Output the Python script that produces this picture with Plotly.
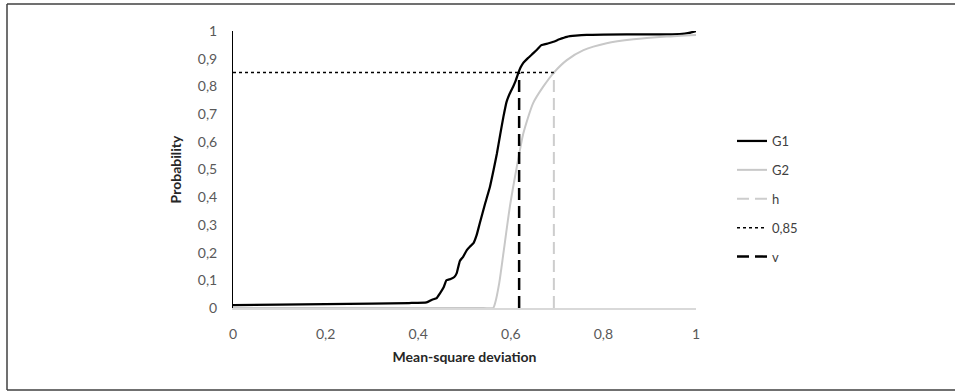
import plotly.graph_objects as go

# ---- data ----
g1_x = [0.000, 0.100, 0.200, 0.300, 0.380, 0.418, 0.430, 0.440, 0.447, 0.455, 0.461, 0.470,
        0.478, 0.483, 0.490, 0.497, 0.505, 0.512, 0.519, 0.526, 0.533, 0.545, 0.555, 0.563,
        0.570, 0.577, 0.584, 0.591, 0.598, 0.605, 0.610, 0.616, 0.621, 0.627, 0.637, 0.648,
        0.657, 0.666, 0.680, 0.692, 0.705, 0.721, 0.740, 0.764, 0.800, 0.900, 0.965, 0.985, 1.000]
g1_y = [0.010, 0.012, 0.014, 0.016, 0.018, 0.020, 0.030, 0.036, 0.053, 0.075, 0.100, 0.105,
        0.112, 0.125, 0.170, 0.185, 0.209, 0.222, 0.233, 0.262, 0.306, 0.380, 0.438, 0.500,
        0.558, 0.625, 0.690, 0.745, 0.775, 0.799, 0.818, 0.847, 0.868, 0.885, 0.902, 0.919,
        0.933, 0.949, 0.955, 0.961, 0.970, 0.979, 0.983, 0.986, 0.987, 0.988, 0.989, 0.993, 1.000]

g2_x = [0.000, 0.540, 0.562, 0.566, 0.575, 0.584, 0.598, 0.613, 0.627, 0.648, 0.670,
        0.693, 0.721, 0.757, 0.807, 0.865, 0.937, 1.000]
g2_y = [0.000, 0.000, 0.000, 0.017, 0.090, 0.197, 0.366, 0.510, 0.630, 0.739, 0.799,
        0.850, 0.895, 0.931, 0.956, 0.970, 0.980, 0.986]

threshold = 0.85
v_x = 0.618
h_x = 0.693

x_ticks = [0, 0.2, 0.4, 0.6, 0.8, 1]
y_ticks = [0, 0.1, 0.2, 0.3, 0.4, 0.5, 0.6, 0.7, 0.8, 0.9, 1]

FONT = "Lato"

fig = go.Figure()
fig.add_trace(go.Scatter(x=g1_x, y=g1_y, mode="lines", name="G1", legendgroup="a",
                         line=dict(color="#000000", width=2.25, shape="spline", smoothing=0.4)))
fig.add_trace(go.Scatter(x=g2_x, y=g2_y, mode="lines", name="G2", legendgroup="b",
                         line=dict(color="#C8C8C8", width=2, shape="spline", smoothing=0.6)))
fig.add_trace(go.Scatter(x=[h_x, h_x], y=[0, threshold], mode="lines", name="h", legendgroup="c",
                         line=dict(color="#CDCDCD", width=2, dash="12px,6px")))
fig.add_trace(go.Scatter(x=[0, h_x], y=[threshold, threshold], mode="lines", name="0,85", legendgroup="d",
                         line=dict(color="#000000", width=1.5, dash="dot")))
fig.add_trace(go.Scatter(x=[v_x, v_x], y=[0, threshold], mode="lines", name="v", legendgroup="e",
                         line=dict(color="#000000", width=2.5, dash="12px,6px")))

L, R, T, B = 233, 259, 31, 84
W, H = 955, 392
pw, ph = W - L - R, H - T - B

bx0, bx1 = (7 - L) / pw, (W + 5 - L) / pw
by0, by1 = (H - B - 390) / ph, (H - B - 4) / ph
border = dict(color="#404040", width=1.5)

fig.update_layout(
    width=W, height=H,
    margin=dict(l=L, r=R, t=T, b=B),
    paper_bgcolor="white", plot_bgcolor="white",
    separators=", ",
    font=dict(family=FONT, size=14, color="#595959"),
    showlegend=True,
    legend=dict(x=(732 - L) / pw, y=(H - B - 126) / ph, xanchor="left", yanchor="top",
                tracegroupgap=9, font=dict(family=FONT, size=13, color="#404040"),
                bgcolor="rgba(0,0,0,0)"),
    xaxis=dict(range=[0, 1], tickvals=x_ticks, showgrid=False, zeroline=False,
               showline=True, linecolor="#D9D9D9", linewidth=1.5, ticks="",
               ticklabelstandoff=12,
               title=dict(text="<b>Mean-square deviation</b>", standoff=12,
                          font=dict(family=FONT, size=14, color="#262626"))),
    yaxis=dict(range=[0, 1], tickvals=y_ticks, showgrid=False, zeroline=False,
               showline=True, linecolor="#000000", linewidth=1, ticks="",
               ticklabelstandoff=12,
               title=dict(text="<b>Probability</b>", standoff=12,
                          font=dict(family=FONT, size=14, color="#262626"))),
    shapes=[
        dict(type="line", xref="paper", yref="paper", x0=bx0, x1=bx1, y0=by1, y1=by1,
             line=border, layer="below"),
        dict(type="line", xref="paper", yref="paper", x0=bx0, x1=bx1, y0=by0, y1=by0,
             line=border, layer="below"),
        dict(type="line", xref="paper", yref="paper", x0=bx0, x1=bx0, y0=by0, y1=by1,
             line=border, layer="below"),
    ],
)

fig.write_html("out.html", config={"displayModeBar": False},
               post_script="document.body.style.margin='0';document.body.style.overflow='hidden';")
